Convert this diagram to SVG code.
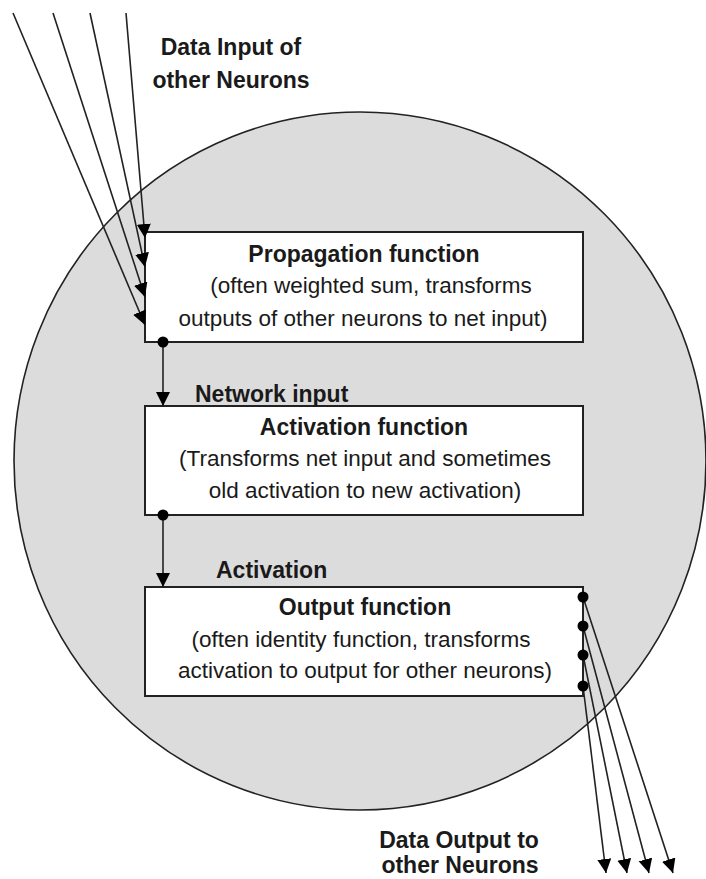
<svg xmlns="http://www.w3.org/2000/svg" width="706" height="879" viewBox="0 0 706 879">
<style>
.box{fill:#ffffff;stroke:#222222;stroke-width:2}
.ln{stroke:#222222;stroke-width:1.6;fill:none}
.t{font-family:"Liberation Sans",Arial,sans-serif;font-size:22.5px;fill:#1a1a1a;text-anchor:middle}
.b{font-family:"Liberation Sans",Arial,sans-serif;font-size:23px;font-weight:bold;fill:#1a1a1a}
.dot{fill:#000000}
</style>
<defs>
<marker id="ah" markerUnits="userSpaceOnUse" markerWidth="15" markerHeight="15" refX="14" refY="7" orient="auto">
<path d="M0,0 L14,7 L0,14 z" fill="#000000"/>
</marker>
</defs>
<rect width="706" height="879" fill="#ffffff"/>
<g id="neuron">
<ellipse cx="360" cy="461" rx="346" ry="349" fill="#dcdcdc" stroke="#222222" stroke-width="1.6"/>
</g>
<g id="propagation">
<rect class="box" x="145" y="232" width="438" height="110"/>
<text class="b" x="364" y="262" text-anchor="middle">Propagation function</text>
<text class="t" x="371" y="293">(often weighted sum, transforms</text>
<text class="t" x="363" y="326">outputs of other neurons to net input)</text>
</g>
<g id="activation">
<rect class="box" x="145" y="406" width="438" height="109"/>
<text class="b" x="364" y="435" text-anchor="middle">Activation function</text>
<text class="t" x="365" y="466">(Transforms net input and sometimes</text>
<text class="t" x="365" y="498">old activation to new activation)</text>
</g>
<g id="output">
<rect class="box" x="145" y="587" width="438" height="109"/>
<text class="b" x="365" y="615" text-anchor="middle">Output function</text>
<text class="t" x="361" y="647">(often identity function, transforms</text>
<text class="t" x="365" y="678">activation to output for other neurons)</text>
</g>
<g id="labels">
<text class="b" x="231" y="55" text-anchor="middle">Data Input of</text>
<text class="b" x="231" y="88" text-anchor="middle">other Neurons</text>
<text class="b" x="195" y="402">Network input</text>
<text class="b" x="216" y="578">Activation</text>
<text class="b" x="459" y="848" text-anchor="middle">Data Output to</text>
<text class="b" x="460" y="873" text-anchor="middle">other Neurons</text>
</g>
<g id="connectors">
<line class="ln" x1="126" y1="13" x2="145" y2="238" marker-end="url(#ah)"/>
<line class="ln" x1="90" y1="13" x2="145" y2="267" marker-end="url(#ah)"/>
<line class="ln" x1="53" y1="13" x2="145" y2="297" marker-end="url(#ah)"/>
<line class="ln" x1="13" y1="13" x2="145" y2="325" marker-end="url(#ah)"/>
<line class="ln" x1="163" y1="342" x2="163" y2="406" stroke-width="2" marker-end="url(#ah)"/>
<circle class="dot" cx="163" cy="342" r="5.5"/>
<line class="ln" x1="163" y1="515" x2="163" y2="587" stroke-width="2" marker-end="url(#ah)"/>
<circle class="dot" cx="163" cy="515" r="5.5"/>
<line class="ln" x1="583" y1="597" x2="673" y2="873" marker-end="url(#ah)"/>
<line class="ln" x1="583" y1="626" x2="649" y2="873" marker-end="url(#ah)"/>
<line class="ln" x1="583" y1="655" x2="627" y2="873" marker-end="url(#ah)"/>
<line class="ln" x1="583" y1="686" x2="606" y2="873" marker-end="url(#ah)"/>
<circle class="dot" cx="583" cy="597" r="5.5"/>
<circle class="dot" cx="583" cy="626" r="5.5"/>
<circle class="dot" cx="583" cy="655" r="5.5"/>
<circle class="dot" cx="583" cy="686" r="5.5"/>
</g>
</svg>
